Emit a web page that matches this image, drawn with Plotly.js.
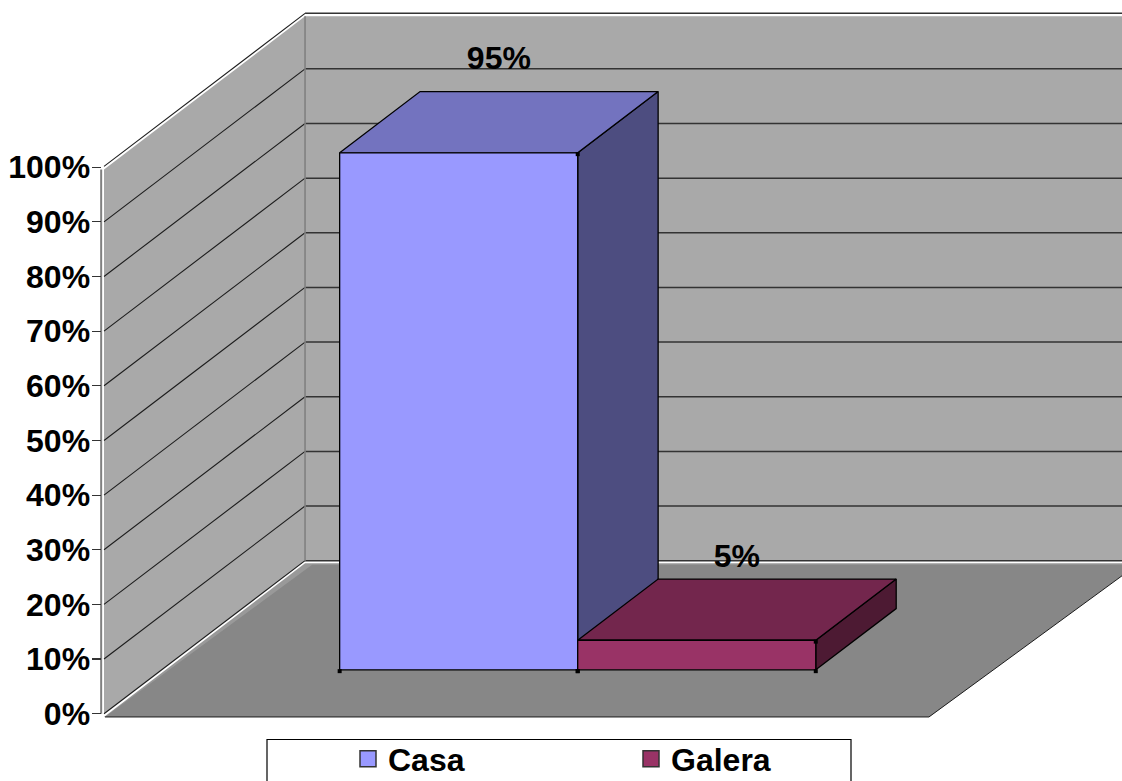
<!DOCTYPE html>
<html>
<head>
<meta charset="utf-8">
<script src="https://cdn.plot.ly/plotly-3.0.1.min.js"></script>
<style>html,body{margin:0;padding:0;background:#fff;overflow:hidden}#chart{width:1122px;height:781px}</style>
</head>
<body>
<div id="chart"></div>
<script>
// ---- data ----
const categories = ['Casa', 'Galera'];
const values = [94.6, 5.4];
const axisTicks = [0, 10, 20, 30, 40, 50, 60, 70, 80, 90, 100];
const axisLabels = axisTicks.map(t => t + '%');

// ---- colours ----
const frontColors = ['#9999FF', '#993366'];
const topColors = ['#7373BF', '#73264D'];
const sideColors = ['#4D4D80', '#4D1A33'];
const wallColor = '#A9A9A9', floorColor = '#878787', edgeColor = '#808080', lineColor = '#1c1c1c';

// ---- oblique 3-D projection onto the 2-D axes ----
// u: bar-width units across the floor; z: 0 front .. 1 back; v: percent.
const WIDTH = 3.5, DEPTH_U = 0.853, DEPTH_V = 28;
const BAR_START = 0.755, BAR_W = 1.01, Z_FRONT = 0.287, Z_DEPTH = 0.40;
const px = (u, z) => u + z * DEPTH_U;
const py = (v, z) => v + z * DEPTH_V;
function poly(points) {
  return { x: points.map(p => px(p[0], p[1])), y: points.map(p => py(p[2], p[1])) };
}
function face(points, fill, line, width, extra) {
  const p = poly(points.concat([points[0]]));
  return Object.assign({ type: 'scatter', mode: 'lines', x: p.x, y: p.y, fill: 'toself', fillcolor: fill,
    line: { color: line, width: width === undefined ? 1.3 : width }, hoverinfo: 'skip', showlegend: false }, extra || {});
}
function path(points, color, width) {
  const p = poly(points);
  return { type: 'scatter', mode: 'lines', x: p.x, y: p.y, line: { color: color, width: width }, hoverinfo: 'skip', showlegend: false };
}

const traces = [];
const FLOOR_DROP = -0.6, WALL_TOP = 99.6, BACK_W = 3.53;
// walls
traces.push(face([[0,0,0],[0,1,0],[0,1,WALL_TOP],[0,0,WALL_TOP]], wallColor, wallColor, 0));
traces.push(face([[0,1,0],[BACK_W,1,0],[BACK_W,1,WALL_TOP],[0,1,WALL_TOP]], wallColor, wallColor, 0));
// gridlines: thin across the side wall, heavier across the back wall
axisTicks.forEach(t => {
  const lift = t === 100 ? 0.15 : 0;
  traces.push(path([[0,0,t+lift],[0,1,t+lift]], lineColor, 1.1));
  traces.push(path([[0,1,t+lift],[BACK_W,1,t+lift]], '#333333', 1.5));
});
// wall edges
traces.push(path([[0,1,0],[0,1,WALL_TOP]], edgeColor, 1.6));
traces.push(path([[-0.012,0,0],[-0.012,0,WALL_TOP]], edgeColor, 2));
// floor
traces.push(face([[0,1,-0.45],[BACK_W,1,-0.45],[WIDTH,0,FLOOR_DROP],[0,0,FLOOR_DROP]], '#999999', '#999999', 0));
traces.push(face([[0.03,1,-0.75],[BACK_W,1,-0.75],[WIDTH,0,FLOOR_DROP],[0.004,0,FLOOR_DROP]], floorColor, floorColor, 0));
traces.push(path([[0.004,0,FLOOR_DROP],[WIDTH,0,FLOOR_DROP],[BACK_W,1,-0.75]], lineColor, 1));

// bars
const corners = { x: [], y: [] };
values.forEach((val, i) => {
  const a = BAR_START + i * BAR_W, b = a + BAR_W, z0 = Z_FRONT, z1 = Z_FRONT + Z_DEPTH;
  traces.push(face([[b,z0,0],[b,z1,0],[b,z1,val],[b,z0,val]], sideColors[i], '#000'));
  traces.push(face([[a,z0,val],[a,z1,val],[b,z1,val],[b,z0,val]], topColors[i], '#000'));
  traces.push(face([[a,z0,0],[b,z0,0],[b,z0,val],[a,z0,val]], frontColors[i], '#000'));
  const c = poly([[a,z0,0],[b,z0,0],[b,z0,val]]);
  corners.x.push(...c.x); corners.y.push(...c.y);
});
traces.push({ type: 'scatter', mode: 'markers', x: corners.x, y: corners.y.map(y => y - 0.25), marker: { symbol: 'square', size: 4, color: '#000' }, hoverinfo: 'skip', showlegend: false });

// data labels
const FONT = 'Liberation Sans, Arial, sans-serif', FS = 32;
const labelFont = { family: FONT, size: FS, color: '#000', weight: 'bold' };
const labelPts = poly(values.map((val, i) => [BAR_START + (i + 0.5) * BAR_W, Z_FRONT + Z_DEPTH / 2, val]));
traces.push({ type: 'scatter', mode: 'text', x: labelPts.x,
  y: labelPts.y.map((y, i) => y + 9.2 + 0.022 * values[i]),
  text: values.map(v => Math.round(v) + '%'), textposition: 'middle center', textfont: labelFont,
  cliponaxis: false, hoverinfo: 'skip', showlegend: false });

// legend keys
categories.forEach((name, i) => traces.push({ type: 'scatter', mode: 'markers', name: name, x: [null], y: [null],
  marker: { symbol: 'square', size: 18, color: frontColors[i], line: { color: '#333', width: 1.5 } }, hoverinfo: 'skip' }));

const U = 235.7, PX_V = 5.465, X0 = 104, Y0 = 713.7;
const W = 1122, H = 781;
const layout = {
  width: W, height: H, margin: { l: 0, r: 0, t: 0, b: 0, pad: 0, autoexpand: false },
  paper_bgcolor: '#fff', plot_bgcolor: 'rgba(0,0,0,0)', showlegend: true,
  xaxis: { range: [-X0 / U, (W - X0) / U], visible: false, fixedrange: true },
  yaxis: { range: [(Y0 - H) / PX_V, Y0 / PX_V], anchor: 'free', position: 100.5 / W, side: 'left',
    tickmode: 'array', tickvals: axisTicks, ticktext: axisLabels, ticks: 'outside', ticklen: 9, tickwidth: 1.2, tickcolor: '#333',
    showgrid: false, zeroline: false, showline: false, fixedrange: true, ticklabelstandoff: -5,
    tickfont: labelFont },
  legend: { orientation: 'h', x: 348 / W, xanchor: 'left', y: 1 - 759 / H, yanchor: 'middle', bgcolor: 'rgba(0,0,0,0)', borderwidth: 0,
    entrywidth: 238, entrywidthmode: 'pixels', itemclick: false, itemdoubleclick: false,
    font: labelFont },
  shapes: [{ type: 'rect', xref: 'paper', yref: 'paper', x0: 267 / W, x1: 851 / W, y0: -0.05, y1: 1 - 739.5 / H,
    line: { color: '#000', width: 1.2 }, fillcolor: '#fff', layer: 'below' }]
};
Plotly.newPlot('chart', traces, layout, { displayModeBar: false, staticPlot: true });
</script>
</body>
</html>
